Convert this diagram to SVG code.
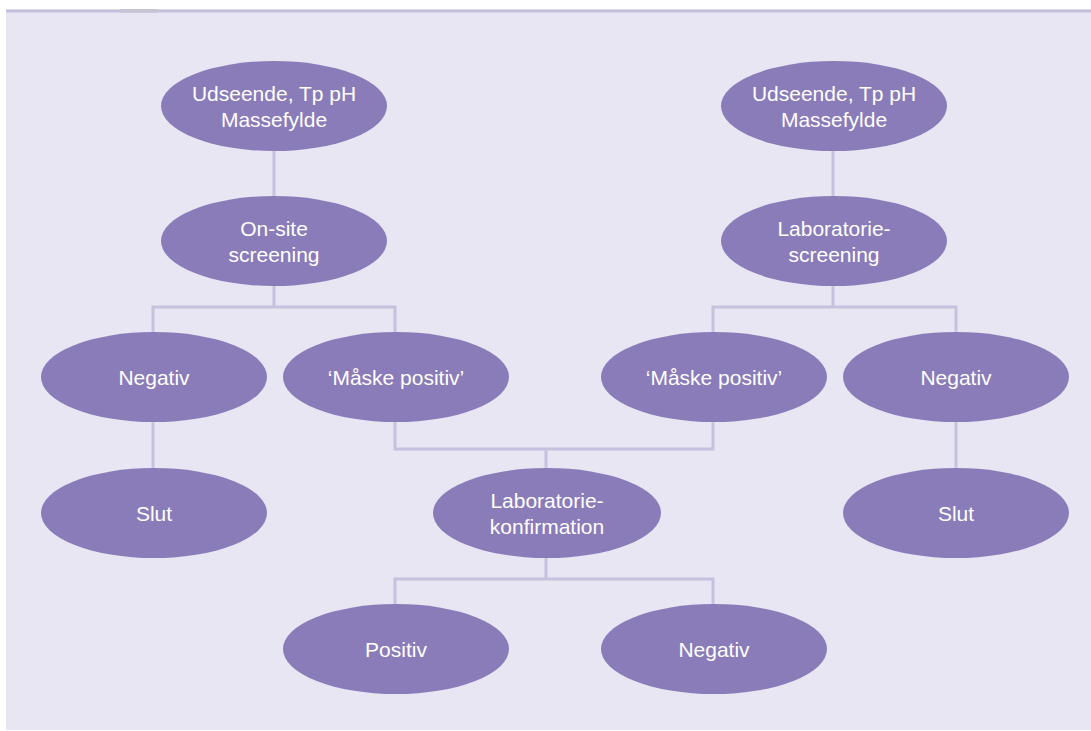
<svg xmlns="http://www.w3.org/2000/svg" width="1091" height="731" viewBox="0 0 1091 731">
<style>
.n ellipse{fill:#8a7cb9}
.n text{fill:#ffffff;font-family:"Liberation Sans",Arial,sans-serif;font-size:21px;text-anchor:middle}
.c path{fill:none;stroke:#c6c1df;stroke-width:3}
</style>
<rect width="1091" height="731" fill="#ffffff"/>
<rect x="6" y="10" width="1085" height="720" fill="#e8e6f3"/>
<rect x="6" y="9" width="1085" height="1" fill="#dcdbe2"/>
<rect x="6" y="10" width="1085" height="2.5" fill="#c5bfdd"/>
<rect x="120" y="9" width="37" height="3.5" fill="#c7c4d6"/>
<g class="c" id="connectors">
<path d="M274 150V197"/>
<path d="M274 285V307M153 333V307H395V333"/>
<path d="M833 150V197"/>
<path d="M833 285V307M713 333V307H956V333"/>
<path d="M153 421V469"/>
<path d="M956 421V469"/>
<path d="M395 421V449H713V421M546 449V469"/>
<path d="M546 557V579M395 605V579H713V605"/>
</g>
<g class="n" id="n1"><ellipse cx="274" cy="106" rx="113" ry="45"/><text x="274" y="100.5">Udseende, Tp pH</text><text x="274" y="126.5">Massefylde</text></g>
<g class="n" id="n2"><ellipse cx="274" cy="241" rx="113" ry="45"/><text x="274" y="235.5">On-site</text><text x="274" y="261.5">screening</text></g>
<g class="n" id="n3"><ellipse cx="834" cy="106" rx="113" ry="45"/><text x="834" y="100.5">Udseende, Tp pH</text><text x="834" y="126.5">Massefylde</text></g>
<g class="n" id="n4"><ellipse cx="834" cy="241" rx="113" ry="45"/><text x="834" y="235.5">Laboratorie-</text><text x="834" y="261.5">screening</text></g>
<g class="n" id="n5"><ellipse cx="154" cy="377" rx="113" ry="45"/><text x="154" y="385">Negativ</text></g>
<g class="n" id="n6"><ellipse cx="396" cy="377" rx="113" ry="45"/><text x="396" y="385">‘Måske positiv’</text></g>
<g class="n" id="n7"><ellipse cx="714" cy="377" rx="113" ry="45"/><text x="714" y="385">‘Måske positiv’</text></g>
<g class="n" id="n8"><ellipse cx="956" cy="377" rx="113" ry="45"/><text x="956" y="385">Negativ</text></g>
<g class="n" id="n9"><ellipse cx="154" cy="513" rx="113" ry="45"/><text x="154" y="521">Slut</text></g>
<g class="n" id="n10"><ellipse cx="547" cy="513" rx="114" ry="45"/><text x="547" y="507.5">Laboratorie-</text><text x="547" y="533.5">konfirmation</text></g>
<g class="n" id="n11"><ellipse cx="956" cy="513" rx="113" ry="45"/><text x="956" y="521">Slut</text></g>
<g class="n" id="n12"><ellipse cx="396" cy="649" rx="113" ry="45"/><text x="396" y="657">Positiv</text></g>
<g class="n" id="n13"><ellipse cx="714" cy="649" rx="113" ry="45"/><text x="714" y="657">Negativ</text></g>
</svg>
